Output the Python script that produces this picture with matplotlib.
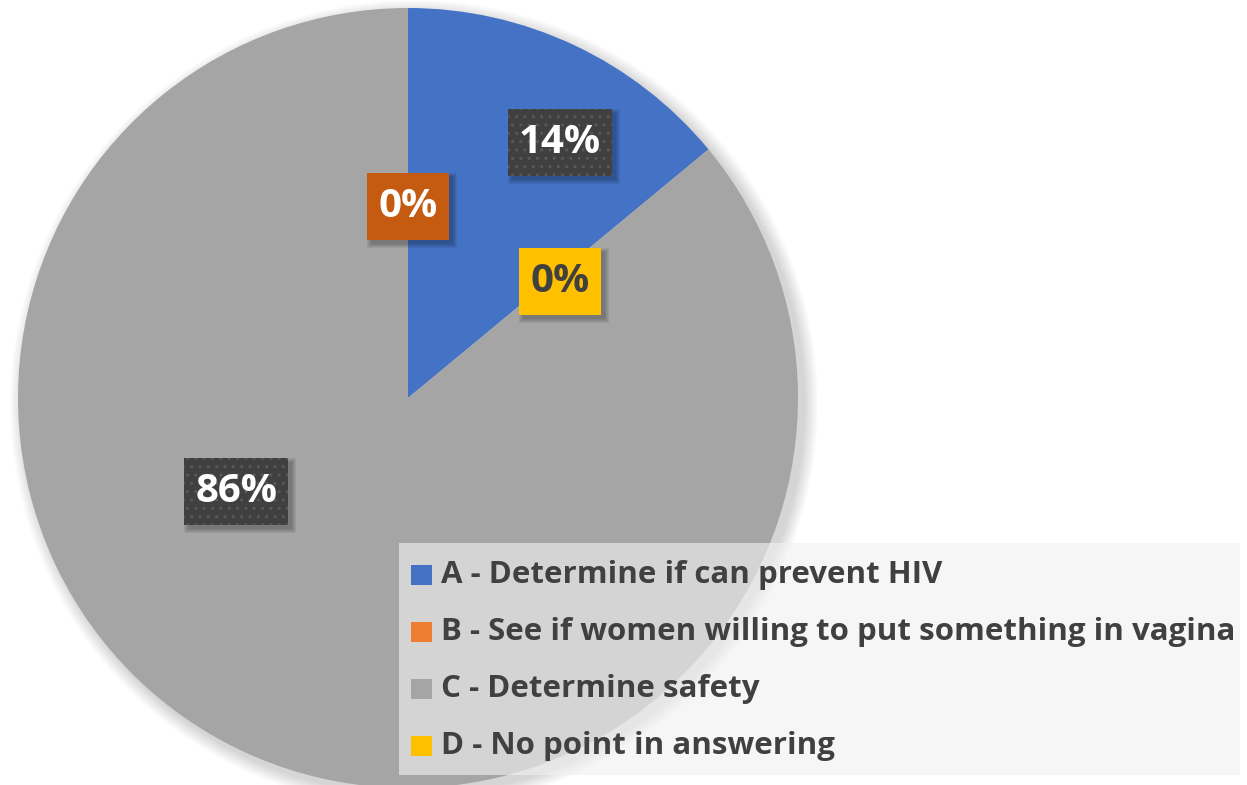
import matplotlib.pyplot as plt
from matplotlib.patches import Rectangle, Circle

categories = ["A - Determine if can prevent HIV",
              "B - See if women willing to put something in vagina",
              "C - Determine safety",
              "D - No point in answering"]
values = [14, 0, 86, 0]
colors = ["#4472C4", "#ED7D31", "#A5A5A5", "#FFC000"]
label_texts = ["14%", "0%", "86%", "0%"]

plt.rcParams['font.family'] = ['Open Sans', 'DejaVu Sans']

W, H = 1247, 785
fig = plt.figure(figsize=(W / 100, H / 100), dpi=100)
ax = fig.add_axes([0, 0, 1, 1])

cx, cy, r = 408, 387, 390

# soft shadow behind the pie
for i in range(14):
    ax.add_patch(Circle((cx + 6, cy - 6), r + 14 - i, color="black",
                        alpha=0.012, lw=0, zorder=1))

ax.pie(values, colors=colors, startangle=90, counterclock=False,
       center=(cx, cy), radius=r, frame=True,
       wedgeprops=dict(linewidth=0, zorder=2))
ax.set_xlim(0, W)
ax.set_ylim(0, H)
ax.set_aspect('equal')
ax.axis('off')

# data labels (offsets relative to centre, in radius units)
label_pos = [(0.39, 0.655), (0.0, 0.49), (-0.44, -0.24), (0.39, 0.30)]
box_col = ["#404040", "#C55A11", "#404040", "#FFC000"]
txt_col = ["white", "white", "white", "#404040"]
fig.canvas.draw()
renderer = fig.canvas.get_renderer()
for (dx, dy), t, bc, tc in zip(label_pos, label_texts, box_col, txt_col):
    x, y = cx + dx * r, cy + dy * r
    txt = ax.text(x, y, t, fontsize=29, fontweight='bold', color=tc,
                  ha='center', va='center', zorder=5)
    ext = txt.get_window_extent(renderer)
    bw = ext.width + 22
    bh = 67
    # soft label shadow
    for k in range(5):
        ax.add_patch(Rectangle((x - bw / 2 + 4 - k, y - bh / 2 - 4 - k), bw + 2 * k, bh + 2 * k,
                               facecolor="black", alpha=0.06, lw=0, zorder=3))
    hatch = '..' if bc == "#404040" else None
    ax.add_patch(Rectangle((x - bw / 2, y - bh / 2), bw, bh, facecolor=bc,
                           edgecolor='#595959' if hatch else 'none', lw=0,
                           hatch=hatch, zorder=4))

# legend box
ax.add_patch(Rectangle((399, 10), 841, 232, facecolor="#F2F2F2", alpha=0.62,
                       lw=0, zorder=5))
row_y = [H - 575, H - 632, H - 689, H - 746]
for yy, c, name in zip(row_y, colors, categories):
    ax.add_patch(Rectangle((411, yy - 10), 21, 20, facecolor=c, lw=0, zorder=6))
    ax.text(441, yy, name, fontsize=22.5, fontweight='bold', color="#404040",
            ha='left', va='center', zorder=6)

plt.savefig("out.png", dpi=100)
